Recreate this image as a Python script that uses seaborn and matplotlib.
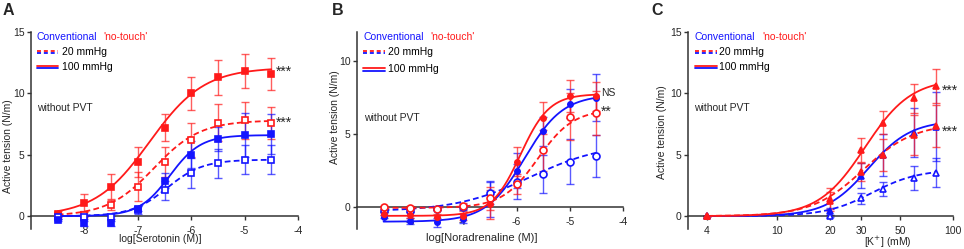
import matplotlib
matplotlib.use('Agg')
import numpy as np
import matplotlib.pyplot as plt
import seaborn as sns
from matplotlib.ticker import NullLocator

# ─────────────────────────────────────────
# Data
# ─────────────────────────────────────────
log_conc = [-8.5, -8, -7.5, -7, -6.5, -6, -5.5, -5, -4.5]
k_conc = [4, 20, 30, 40, 60, 80]

# A: serotonin  (mean, SEM)
a_conv100 = [-0.3, -0.6, -0.6, 0.6, 2.9, 5.0, 6.3, 6.6, 6.7]
a_conv100_err = [0.1, 0.2, 0.2, 0.2, 0.6, 1.1, 1.0, 1.8, 1.6]
a_conv20 = [-0.1, -0.1, -0.1, 0.5, 2.1, 3.5, 4.3, 4.6, 4.6]
a_conv20_err = [0.1, 0.1, 0.1, 0.3, 0.8, 1.2, 1.2, 1.2, 1.2]
a_nt100 = [0.2, 1.1, 2.4, 4.4, 7.2, 10.0, 11.3, 11.8, 11.6]
a_nt100_err = [0.2, 0.7, 1.0, 1.2, 1.1, 1.35, 1.4, 1.4, 1.3]
a_nt20 = [0.0, 0.1, 0.9, 2.4, 4.4, 6.2, 7.6, 7.8, 7.6]
a_nt20_err = [0.1, 0.2, 0.4, 1.2, 1.2, 1.4, 1.5, 1.5, 1.3]

# B: noradrenaline
b_conv100 = [-0.65, -0.95, -1.05, -0.8, 0.55, 2.5, 5.2, 7.1, 7.5]
b_conv100_err = [0.1, 0.2, 0.3, 0.3, 1.2, 1.2, 1.0, 1.0, 1.6]
b_conv20 = [-0.25, -0.25, -0.1, 0.0, 1.0, 1.75, 2.25, 3.1, 3.5]
b_conv20_err = [0.1, 0.1, 0.1, 0.2, 0.8, 1.2, 1.3, 1.55, 1.45]
b_nt100 = [-0.45, -0.55, -0.7, -0.6, 0.2, 3.1, 6.1, 7.6, 7.6]
b_nt100_err = [0.1, 0.2, 0.2, 0.3, 1.0, 1.0, 1.1, 1.1, 1.0]
b_nt20 = [0.0, -0.05, -0.1, 0.1, 0.6, 1.6, 3.9, 6.2, 6.45]
b_nt20_err = [0.1, 0.1, 0.1, 0.2, 0.8, 0.7, 1.4, 1.6, 1.5]

# C: K+
c_conv100 = [0, 0.4, 3.3, 5.0, 6.8, 7.3]
c_conv100_err = [0, 0.3, 1.0, 1.7, 2.0, 2.8]
c_conv20 = [0, 0.0, 1.45, 2.2, 3.1, 3.55]
c_conv20_err = [0, 0.1, 0.45, 0.6, 1.0, 1.2]
c_nt100 = [0, 1.4, 5.4, 7.6, 9.6, 10.6]
c_nt100_err = [0, 0.85, 1.0, 0.95, 1.2, 1.4]
c_nt20 = [0, 1.2, 3.6, 4.95, 6.6, 7.35]
c_nt20_err = [0, 0.8, 0.7, 1.3, 1.6, 1.7]

# fitted sigmoid parameters (bottom, top, logEC50, hill)
a_fit = {'conv100': (0, 6.6, -6.4, 1.5), 'conv20': (0, 4.6, -6.45, 1.3),
         'nt100': (0, 12.1, -6.78, 0.85), 'nt20': (0, 7.8, -6.7, 1.0)}
b_fit = {'conv100': (-1.0, 7.7, -5.85, 1.2), 'conv20': (-0.3, 4.4, -5.75, 0.62),
         'nt100': (-0.6, 7.75, -5.93, 1.6), 'nt20': (-0.05, 6.7, -5.6, 1.3)}
c_fit = {'conv100': (0, 7.8, 1.52, 3.6), 'conv20': (0, 3.8, 1.54, 3.3),
         'nt100': (0, 11.2, 1.50, 3.3), 'nt20': (0, 7.55, 1.49, 3.0)}

BLUE = '#1414ff'
RED = '#ff1a1a'

sns.set_theme(style="ticks")
plt.rcParams['font.family'] = ['Liberation Sans', 'DejaVu Sans']
plt.rcParams['font.size'] = 7.5
plt.rcParams['axes.unicode_minus'] = False


def logistic(x, bottom, top, ec, h):
    return bottom + (top - bottom) / (1 + 10 ** ((ec - x) * h))


def draw_series(ax, x, y, err, fit, color, dashed, marker, filled, ms, logx=False):
    if logx:
        lx = np.linspace(np.log10(x[0]), np.log10(x[-1]), 300)
        xs = 10 ** lx
    else:
        lx = np.linspace(x[0], x[-1], 300)
        xs = lx
    ys = logistic(lx, *fit)
    ls = (0, (3.2, 1.8)) if dashed else '-'
    sns.lineplot(x=xs, y=ys, ax=ax, color=color, linestyle=ls, linewidth=1.3,
                 zorder=3, sort=False)
    ax.errorbar(x, y, yerr=err, fmt='none', ecolor=color, elinewidth=1.0,
                capsize=2.6, capthick=1.0, alpha=0.7, zorder=2)
    ax.plot(x, y, ls='none', marker=marker, ms=ms,
            mfc=color if filled else 'white', mec=color, mew=1.2, zorder=4)


def style_axis(ax, ylim, yticks):
    ax.set_ylim(*ylim)
    ax.set_yticks(yticks)
    sns.despine(ax=ax)
    ax.spines['bottom'].set_position(('data', 0))
    for s in ['left', 'bottom']:
        ax.spines[s].set_linewidth(1.1)
        ax.spines[s].set_color('#333333')
    ax.tick_params(axis='y', length=3, width=1.0, pad=1.5, labelsize=7.5, color='#333333')
    ax.tick_params(axis='x', length=3, width=1.0, pad=4, labelsize=7.5, color='#333333')
    ax.set_ylabel("Active tension (N/m)", fontsize=7.5)


def legend_block(ax, x0, x1, xt, xn, ys):
    kw = dict(transform=ax.transAxes, va='center', fontsize=7.5)
    ax.text(x0, ys[0], "Conventional", color=BLUE, **kw)
    ax.text(xn, ys[0], "'no-touch'", color=RED, **kw)
    d = 0.0065
    for yy, dashed, lab in [(ys[1], True, "20 mmHg"), (ys[2], False, "100 mmHg")]:
        ls = (0, (2.2, 1.6)) if dashed else '-'
        ax.plot([x0, x1], [yy + d, yy + d], color=RED, lw=1.3, ls=ls,
                transform=ax.transAxes, clip_on=False)
        ax.plot([x0, x1], [yy - d, yy - d], color=BLUE, lw=1.3, ls=ls,
                transform=ax.transAxes, clip_on=False)
        ax.text(xt, yy, lab, color='black', **kw)


fig = plt.figure(figsize=(9.64, 2.49), dpi=100)
H = 249.0
W = 964.0
ax_a = fig.add_axes([31 / W, 20 / H, 267 / W, 197 / H])
ax_b = fig.add_axes([357 / W, 20 / H, 266 / W, 197 / H])
ax_c = fig.add_axes([688 / W, 20 / H, 265 / W, 197 / H])

# ─────────────────────────────────────────
# Panel A
# ─────────────────────────────────────────
ax = ax_a
draw_series(ax, log_conc, a_nt20, a_nt20_err, a_fit['nt20'], RED, True, 's', False, 5)
draw_series(ax, log_conc, a_nt100, a_nt100_err, a_fit['nt100'], RED, False, 's', True, 4.8)
draw_series(ax, log_conc, a_conv20, a_conv20_err, a_fit['conv20'], BLUE, True, 's', False, 5)
draw_series(ax, log_conc, a_conv100, a_conv100_err, a_fit['conv100'], BLUE, False, 's', True, 4.8)
ax.set_xlim(-9, -4)
ax.set_xticks([-8, -7, -6, -5, -4])
style_axis(ax, (-1.05, 15), [0, 5, 10, 15])
ax.set_xlabel("log[Serotonin (M)]", fontsize=7.5)
ax.xaxis.set_label_coords(0.483, -0.025)
ax.yaxis.set_label_coords(-0.067, 0.42)
legend_block(ax, 0.022, 0.101, 0.116, 0.27, [0.975, 0.898, 0.822])
ax.text(0.022, 0.614, "without PVT", transform=ax.transAxes, va='center', fontsize=7.5)
ax.text(-4.42, 11.75, "***", va='center', fontsize=10)
ax.text(-4.42, 7.6, "***", va='center', fontsize=10)

# ─────────────────────────────────────────
# Panel B
# ─────────────────────────────────────────
ax = ax_b
draw_series(ax, log_conc, b_conv20, b_conv20_err, b_fit['conv20'], BLUE, True, 'o', False, 5)
draw_series(ax, log_conc, b_conv100, b_conv100_err, b_fit['conv100'], BLUE, False, 'o', True, 3.8)
draw_series(ax, log_conc, b_nt20, b_nt20_err, b_fit['nt20'], RED, True, 'o', False, 5)
draw_series(ax, log_conc, b_nt100, b_nt100_err, b_fit['nt100'], RED, False, 'o', True, 3.8)
ax.set_xlim(-9, -4)
ax.set_xticks([-8, -7, -6, -5, -4])
style_axis(ax, (-1.5, 12), [0, 5, 10])
ax.set_xlabel("log[Noradrenaline (M)]", fontsize=8)
ax.xaxis.set_label_coords(0.47, -0.02)
ax.yaxis.set_label_coords(-0.064, 0.57)
legend_block(ax, 0.023, 0.105, 0.117, 0.274, [0.975, 0.898, 0.81])
ax.text(0.026, 0.563, "without PVT", transform=ax.transAxes, va='center', fontsize=7.5)
ax.text(-4.42, 7.8, "NS", va='center', fontsize=7.5)
ax.text(-4.42, 6.55, "**", va='center', fontsize=10)

# ─────────────────────────────────────────
# Panel C
# ─────────────────────────────────────────
ax = ax_c
ax.set_xscale('log')
draw_series(ax, k_conc, c_conv20, c_conv20_err, c_fit['conv20'], BLUE, True, '^', False, 5, logx=True)
draw_series(ax, k_conc, c_conv100, c_conv100_err, c_fit['conv100'], BLUE, False, '^', True, 5, logx=True)
draw_series(ax, k_conc, c_nt20, c_nt20_err, c_fit['nt20'], RED, True, '^', True, 5, logx=True)
draw_series(ax, k_conc, c_nt100, c_nt100_err, c_fit['nt100'], RED, False, '^', True, 5, logx=True)
ax.set_xlim(3.12, 100)
ax.set_xticks([4, 10, 20, 30, 50, 100])
ax.set_xticklabels(['4', '10', '20', '30', '50', '100'])
ax.xaxis.set_minor_locator(NullLocator())
style_axis(ax, (-1.05, 15), [0, 5, 10, 15])
ax.set_xlabel("[K$^{+}$] (mM)", fontsize=7.5)
ax.xaxis.set_label_coords(0.755, -0.03)
ax.yaxis.set_label_coords(-0.079, 0.49)
legend_block(ax, 0.026, 0.109, 0.117, 0.28, [0.975, 0.898, 0.822])
ax.text(0.023, 0.614, "without PVT", transform=ax.transAxes, va='center', fontsize=7.5)
ax.text(86, 10.25, "***", va='center', fontsize=10)
ax.text(86, 6.85, "***", va='center', fontsize=10)

# panel letters
for lx, lab in [(3, 'A'), (332, 'B'), (651, 'C')]:
    fig.text(lx / W, 1 - 3 / H, lab, fontsize=11.5, fontweight='bold', va='top', ha='left')

fig.savefig("out.png", dpi=100)
